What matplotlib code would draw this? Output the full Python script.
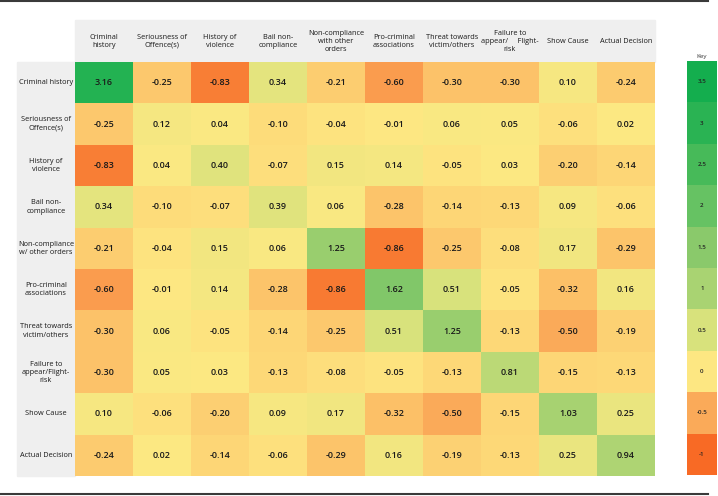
import numpy as np
import matplotlib.pyplot as plt
from matplotlib.colors import LinearSegmentedColormap, Normalize
from matplotlib.patches import Rectangle
from matplotlib.lines import Line2D

plt.rcParams['font.family'] = ['Open Sans', 'DejaVu Sans']

col_labels = ['Criminal\nhistory', 'Seriousness of\nOffence(s)', 'History of\nviolence',
              'Bail non-\ncompliance', 'Non-compliance\nwith other\norders',
              'Pro-criminal\nassociations', 'Threat towards\nvictim/others',
              'Failure to\nappear/     Flight-\nrisk', 'Show Cause', 'Actual Decision']
row_labels = ['Criminal history', 'Seriousness of\nOffence(s)', 'History of\nviolence',
              'Bail non-\ncompliance', 'Non-compliance\nw/ other orders',
              'Pro-criminal\nassociations', 'Threat towards\nvictim/others',
              'Failure to\nappear/Flight-\nrisk', 'Show Cause', 'Actual Decision']

values = [
    [3.16, -0.25, -0.83, 0.34, -0.21, -0.60, -0.30, -0.30, 0.10, -0.24],
    [-0.25, 0.12, 0.04, -0.10, -0.04, -0.01, 0.06, 0.05, -0.06, 0.02],
    [-0.83, 0.04, 0.40, -0.07, 0.15, 0.14, -0.05, 0.03, -0.20, -0.14],
    [0.34, -0.10, -0.07, 0.39, 0.06, -0.28, -0.14, -0.13, 0.09, -0.06],
    [-0.21, -0.04, 0.15, 0.06, 1.25, -0.86, -0.25, -0.08, 0.17, -0.29],
    [-0.60, -0.01, 0.14, -0.28, -0.86, 1.62, 0.51, -0.05, -0.32, 0.16],
    [-0.30, 0.06, -0.05, -0.14, -0.25, 0.51, 1.25, -0.13, -0.50, -0.19],
    [-0.30, 0.05, 0.03, -0.13, -0.08, -0.05, -0.13, 0.81, -0.15, -0.13],
    [0.10, -0.06, -0.20, 0.09, 0.17, -0.32, -0.50, -0.15, 1.03, 0.25],
    [-0.24, 0.02, -0.14, -0.06, -0.29, 0.16, -0.19, -0.13, 0.25, 0.94],
]

key_values = [3.5, 3, 2.5, 2, 1.5, 1, 0.5, 0, -0.5, -1]
key_colors = ['#14ae4e', '#2bb454', '#48bb5a', '#66c263', '#8bca6c',
              '#a9d372', '#d8e27c', '#fee983', '#fbab5a', '#f86a25']

vmin, vmax = -1, 3.5
stops = [((v - vmin) / (vmax - vmin), c) for v, c in sorted(zip(key_values, key_colors))]
cmap = LinearSegmentedColormap.from_list('key', stops)
norm = Normalize(vmin, vmax)

W, H = 718, 496
fig = plt.figure(figsize=(W / 100, H / 100), dpi=100)


def box(x0, y0, x1, y1):
    return [x0 / W, 1 - y1 / H, (x1 - x0) / W, (y1 - y0) / H]


# grey header backgrounds
fig.add_artist(Rectangle((75 / W, 1 - 62 / H), 580 / W, 42 / H,
                         transform=fig.transFigure, color='#efefef', zorder=0))
fig.add_artist(Rectangle((17 / W, 1 - 476 / H), 58 / W, 414 / H,
                         transform=fig.transFigure, color='#efefef', zorder=0))

ax = fig.add_axes(box(75, 62, 655, 476))
data = np.array(values)
ax.imshow(data, cmap=cmap, norm=norm, aspect='auto', interpolation='nearest')
for i in range(data.shape[0]):
    for j in range(data.shape[1]):
        ax.text(j, i, f'{data[i, j]:.2f}', ha='center', va='center',
                fontsize=6.5, fontweight='semibold', color='#1a1a1a')
for j, lab in enumerate(col_labels):
    ax.text(j, -1.0, lab, ha='center', va='center', fontsize=5.3,
            fontweight='medium', color='#1a1a1a', linespacing=1.25, clip_on=False)
for i, lab in enumerate(row_labels):
    ax.text(-1.0, i, lab, ha='center', va='center', fontsize=5.3,
            fontweight='medium', color='#1a1a1a', linespacing=1.25, clip_on=False)
ax.axis('off')

# key
kax = fig.add_axes(box(687, 61, 717, 475))
kax.imshow(np.array(key_values).reshape(-1, 1), cmap=cmap, norm=norm,
           aspect='auto', interpolation='nearest')
for i, v in enumerate(key_values):
    kax.text(0, i, f'{v:g}', ha='center', va='center', fontsize=4.5,
             fontweight='semibold', color='#222222')
kax.text(0, -0.62, 'Key', ha='center', va='center', fontsize=4.5,
         color='#333333', clip_on=False)
kax.axis('off')

# frame lines
fig.add_artist(Line2D([0, 708 / W], [1 - 1 / H] * 2, color='#3a3a3a', lw=1.5))
fig.add_artist(Line2D([0, 708 / W], [1 - 494 / H] * 2, color='#3a3a3a', lw=1.5))

fig.savefig('out.png', dpi=100)
